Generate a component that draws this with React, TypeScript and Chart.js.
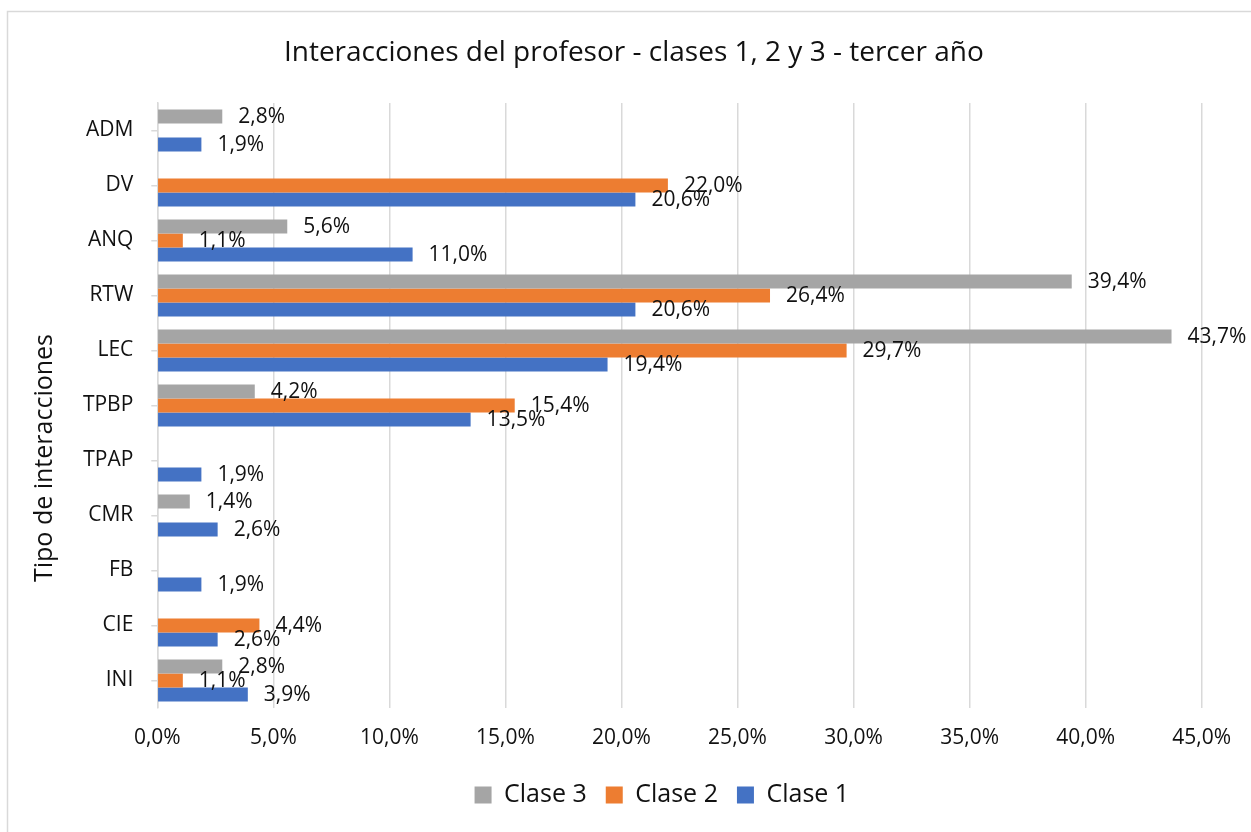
import React, { useEffect, useRef } from 'react';
import { Chart, registerables } from 'chart.js';

Chart.register(...registerables);

const categories = ['ADM', 'DV', 'ANQ', 'RTW', 'LEC', 'TPBP', 'TPAP', 'CMR', 'FB', 'CIE', 'INI'];
const clase3 = [2.8, null, 5.6, 39.4, 43.7, 4.2, null, 1.4, null, null, 2.8];
const clase2 = [null, 22.0, 1.1, 26.4, 29.7, 15.4, null, null, null, 4.4, 1.1];
const clase1 = [1.9, 20.6, 11.0, 20.6, 19.4, 13.5, 1.9, 2.6, 1.9, 2.6, 3.9];
const seriesNames = ['Clase 3', 'Clase 2', 'Clase 1'];
const xMin = 0;
const xMax = 45;
const xStep = 5;
const titleText = 'Interacciones del profesor - clases 1, 2 y 3 - tercer año';
const yTitleText = 'Tipo de interacciones';

const FONT = "'Open Sans', sans-serif";
const TEXT = '#111111';
const GRID = '#d9d9d9';
const COLORS = ['#A5A5A5', '#ED7D31', '#4472C4'];

const fmt = (v: number) => v.toFixed(1).replace('.', ',') + '%';

const framePlugin = {
  id: 'frame',
  beforeDraw(chart: any) {
    const { ctx, width, height } = chart;
    ctx.save();
    ctx.fillStyle = '#ffffff';
    ctx.fillRect(0, 0, width, height);
    ctx.strokeStyle = GRID;
    ctx.lineWidth = 1.5;
    ctx.beginPath();
    ctx.moveTo(7.5, height);
    ctx.lineTo(7.5, 11.5);
    ctx.lineTo(width, 11.5);
    ctx.stroke();
    ctx.restore();
  },
  afterLayout(chart: any) {
    if (chart.titleBlock) {
      chart.titleBlock.left += 33;
      chart.titleBlock.right += 33;
    }
    if (chart.legend) {
      chart.legend.left += 61;
      chart.legend.right += 61;
    }
  },
  afterDatasetsDraw(chart: any) {
    const { ctx } = chart;
    ctx.save();
    ctx.font = `21px ${FONT}`;
    ctx.fillStyle = TEXT;
    ctx.textAlign = 'left';
    ctx.textBaseline = 'middle';
    chart.data.datasets.forEach((ds: any, i: number) => {
      const meta = chart.getDatasetMeta(i);
      meta.data.forEach((el: any, j: number) => {
        const v = ds.data[j];
        if (v === null || v === undefined) return;
        ctx.fillText(fmt(v), el.x + 16, el.y + 1);
      });
    });
    ctx.restore();
  },
  afterDraw(chart: any) {
    const { ctx } = chart;
    ctx.save();
    ctx.font = `25px ${FONT}`;
    ctx.fillStyle = TEXT;
    ctx.textAlign = 'center';
    ctx.textBaseline = 'middle';
    ctx.translate(45, 458);
    ctx.rotate(-Math.PI / 2);
    ctx.fillText(yTitleText, 0, 0);
    ctx.restore();
  },
};

export default function App() {
  const ref = useRef<HTMLCanvasElement>(null);

  useEffect(() => {
    if (!ref.current) return;
    const chart = new Chart(ref.current, {
      type: 'bar',
      data: {
        labels: categories,
        datasets: [
          { label: seriesNames[0], data: clase3, backgroundColor: COLORS[0] },
          { label: seriesNames[1], data: clase2, backgroundColor: COLORS[1] },
          { label: seriesNames[2], data: clase1, backgroundColor: COLORS[2] },
        ],
      },
      options: {
        indexAxis: 'y',
        responsive: false,
        animation: false,
        datasets: { bar: { barPercentage: 1, categoryPercentage: 0.764, borderWidth: 0 } },
        layout: { padding: { top: 11, bottom: 14.5, left: 0, right: 49.3 } },
        plugins: {
          title: {
            display: true,
            text: titleText,
            color: TEXT,
            font: { family: FONT, size: 28, weight: 'normal' },
            padding: { top: 25.2, bottom: 33.2 },
          },
          legend: {
            position: 'bottom',
            labels: {
              color: TEXT,
              font: { family: FONT, size: 25 },
              boxWidth: 17,
              boxHeight: 17,
              padding: 19,
            },
          },
          tooltip: { enabled: false },
        },
        scales: {
          x: {
            min: xMin,
            max: xMax,
            ticks: {
              stepSize: xStep,
              color: TEXT,
              font: { family: FONT, size: 21 },
              padding: 17,
              callback: (v: any) => fmt(Number(v)),
            },
            grid: { color: GRID, lineWidth: 1.5, drawTicks: false },
            border: { display: false },
            afterFit: (s: any) => { s.height = 55.5; },
          },
          y: {
            ticks: {
              color: TEXT,
              font: { family: FONT, size: 21 },
              padding: 18,
            },
            grid: {
              offset: false,
              drawOnChartArea: false,
              drawTicks: true,
              tickLength: 6,
              color: GRID,
              lineWidth: 1.5,
            },
            border: { display: true, color: GRID, width: 1.5 },
            afterFit: (s: any) => { s.width = 157.3; },
          },
        },
      },
      plugins: [framePlugin],
    });
    return () => chart.destroy();
  }, []);

  return (
    <div style={{ position: 'absolute', left: 0, top: 0, width: 1251, height: 832 }}>
      <canvas ref={ref} width={1251} height={832} style={{ display: 'block' }} />
    </div>
  );
}
